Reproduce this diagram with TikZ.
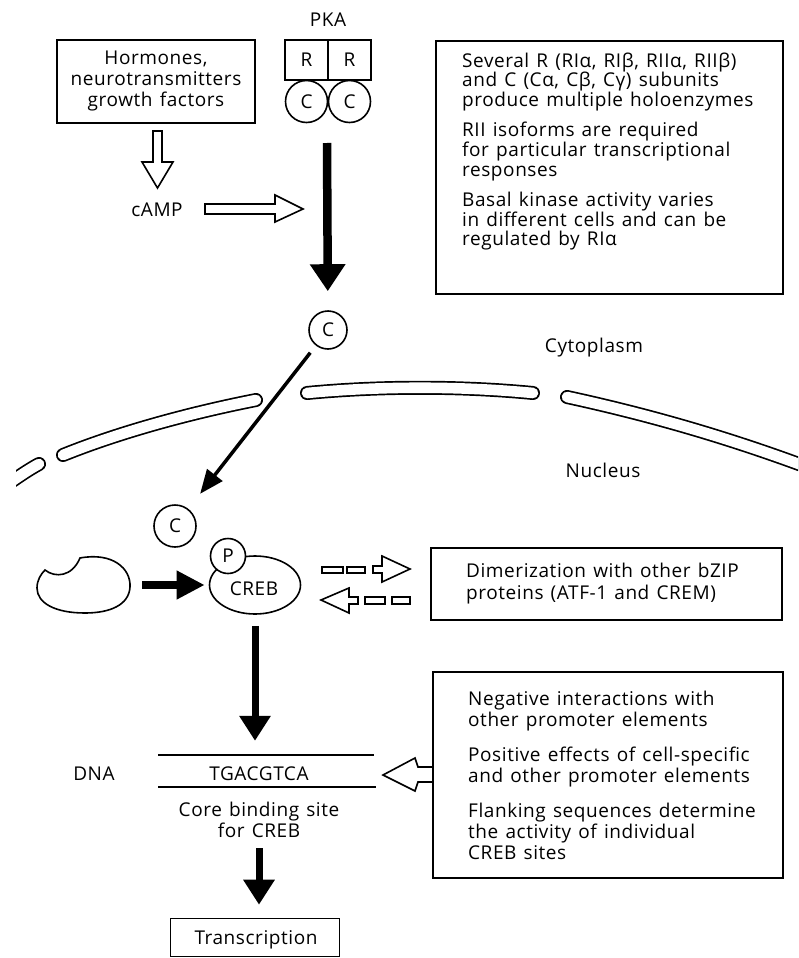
\documentclass[tikz,border=0pt]{standalone}
\usepackage{fontspec}
\setmainfont[LetterSpace=3,WordSpace=1.3]{Open Sans}
\usetikzlibrary{arrows.meta,shapes.geometric}
\begin{document}
\begin{tikzpicture}[x=1pt,y=1pt,
  every node/.style={inner sep=0pt, font=\fontsize{19}{21}\selectfont},
  box/.style={draw, line width=1.6pt},
  circ/.style={draw, circle, line width=1.6pt, fill=white},
  lab/.style={align=center},
  para/.style={align=left, anchor=west},
  fatarrow/.style={line width=8.5pt, -{Triangle[width=34pt,length=27pt]}},
  midarrow/.style={line width=7pt, -{Triangle[width=30pt,length=25pt]}},
  sidearrow/.style={line width=7.5pt, -{Triangle[width=27pt,length=28pt]}},
  thinarrow/.style={line width=3.5pt, -{Triangle[width=19pt,length=24pt]}},
  hollow/.style={draw, line width=1.6pt, fill=white, line join=miter},
  dashbox/.style={draw, line width=1.6pt, fill=white},
  tubeo/.style={line width=14pt, line cap=round, draw=black},
  tubei/.style={line width=10.6pt, line cap=round, draw=white},
]
\fill[white] (0,0) rectangle (798,-958);
\useasboundingbox (0,0) rectangle (798,-958);

% ---------- membrane ----------
\begin{scope}
  \clip (0,0) rectangle (798,-958);
  \foreach \s in {tubeo,tubei}{
    \draw[\s] (63,-455) .. controls (120,-432) and (190,-413) .. (256,-400);
    \draw[\s] (307,-393) .. controls (380,-386) and (460,-386) .. (533,-393);
    \draw[\s] (567,-397) .. controls (650,-415) and (730,-438) .. (815,-470);
  }
\end{scope}
\begin{scope}
  \clip (16,0) rectangle (798,-958);
  \foreach \s in {tubeo,tubei}{
    \draw[\s] (39,-464) .. controls (28,-470) and (18,-477) .. (5,-486);
  }
\end{scope}
\node (cyto) at (594,-348) {Cytoplasm};
\node (nuc) at (603,-470) {Nucleus};

% ---------- top ----------
\node (pka) at (328,-20) {PKA};
\node[box, minimum width=198, minimum height=83] (horm) at (156,-81.5) {};
\node[lab] (hormt) at (156,-81) {Hormones,\\neurotransmitters\\growth factors};
\node[circ, minimum size=42] (ca) at (306.5,-101.5) {C};
\node[circ, minimum size=42] (cb) at (349.5,-101.5) {C};
\node[box, minimum width=43, minimum height=40] (ra) at (306.5,-60) {R};
\node[box, minimum width=43, minimum height=40] (rb) at (349.5,-60) {R};

\node (camp) at (157,-210) {cAMP};
\draw[hollow] (153,-131) -- (162,-131) -- (162,-162) -- (173,-162) -- (157.5,-188)
  -- (142,-162) -- (153,-162) -- cycle;
\draw[hollow] (205,-204) -- (275,-204) -- (275,-195) -- (303,-209) -- (275,-222)
  -- (275,-214) -- (205,-214) -- cycle;

\node[box, minimum width=347, minimum height=253, anchor=north west] (info1) at (435,-40) {};
\node[para, font=\fontsize{19}{19.6}\selectfont] (info1t) at (462,-151.5)
 {Several R (RIα, RIβ, RIIα, RIIβ)\\and C (Cα, Cβ, Cγ) subunits\\produce multiple holoenzymes\\[11pt]
  RII isoforms are required\\for particular transcriptional\\responses\\[11pt]
  Basal kinase activity varies\\in different cells and can be\\regulated by RIα};

\coordinate (pkab) at (327,-143);
\node[circ, minimum size=38] (cfree) at (328,-330) {C};
\draw[fatarrow, shorten >=19pt] (pkab) -- (cfree);

% ---------- nucleus ----------
\node[circ, minimum size=42] (cnuc) at (175,-526) {C};
\draw[thinarrow, shorten <=9pt, shorten >=19pt] (cfree) -- (cnuc);

\draw[line width=1.6pt] (45,-570) .. controls (55,-578) and (72,-577) .. (80,-558)
  .. controls (112,-552) and (131,-568) .. (130,-587)
  .. controls (129,-605) and (110,-613) .. (85,-613)
  .. controls (55,-613) and (37,-603) .. (37,-588)
  .. controls (37,-580) and (41,-574) .. (45,-570) -- cycle;
\coordinate (beanr) at (131,-585);

\node[draw, ellipse, line width=1.6pt, minimum width=91, minimum height=58] (creb) at (255,-585) {};
\node (crebt) at (254,-589) {CREB};
\node[circ, minimum size=35] (p) at (228,-556) {P};
\draw[sidearrow, shorten <=11pt, shorten >=4pt] (beanr) -- (creb.west);

% dashed double arrows
\draw[dashbox] (322,-567) rectangle (343,-573);
\draw[dashbox] (347,-567) rectangle (365,-573);
\draw[hollow] (373,-566) -- (382,-566) -- (382,-556) -- (410,-569) -- (382,-582)
  -- (382,-573) -- (373,-573) -- cycle;
\draw[hollow] (321,-600) -- (349,-588) -- (349,-597) -- (358,-597) -- (358,-604)
  -- (349,-604) -- (349,-613) -- cycle;
\draw[dashbox] (365,-597) rectangle (385,-604);
\draw[dashbox] (392,-597) rectangle (410,-604);

\node[box, minimum width=351, minimum height=72] (dimer) at (606.5,-584) {};
\node[para, font=\fontsize{19}{22}\selectfont] (dimert) at (466,-584)
 {Dimerization with other bZIP\\proteins (ATF-1 and CREM)};

% DNA
\node[minimum width=215, minimum height=32] (site) at (266,-771) {};
\draw[line width=1.6pt] (site.north west) -- (site.north east);
\draw[line width=1.6pt] (site.south west) -- ([xshift=2pt]site.south east);
\node (dnal) at (94,-774) {DNA};
\node (seq) at (259,-774) {TGACGTCA};
\node[lab] (core) at (259,-820) {Core binding site\\for CREB};
\draw[midarrow, shorten <=11pt, shorten >=14pt] (creb.south) -- (creb.south |- site.north);

\node[box, minimum width=350, minimum height=206] (info2) at (608,-775) {};
\node[para] (info2t) at (468,-775.5)
 {Negative interactions with\\other promoter elements\\[14pt]
  Positive effects of cell-specific\\and other promoter elements\\[14pt]
  Flanking sequences determine\\the activity of individual\\CREB sites};
\draw[hollow] (433,-767) -- (418,-767) -- (415,-758) -- (383,-775) -- (415,-791)
  -- (418,-782) -- (433,-782) -- cycle;

\node[box, minimum width=169, minimum height=38] (trans) at (255,-937.5) {};
\node (transt) at (256,-940) {Transcription};
\draw[midarrow, shorten <=10pt, shorten >=13pt] (core.south) -- (core.south |- trans.north);
\end{tikzpicture}
\end{document}
